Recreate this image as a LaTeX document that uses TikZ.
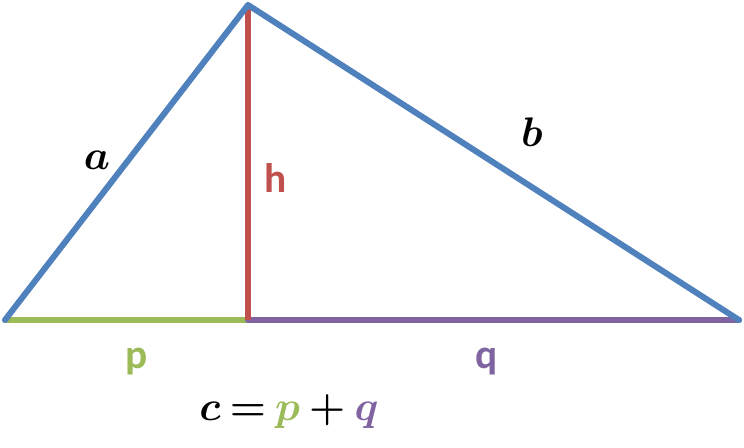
\RequirePackage{fix-cm}
\documentclass[tikz,border=0pt]{standalone}
\usepackage{amsmath,amssymb,bm}
\usepackage{fontspec}
\newfontfamily\labelfont{Carlito}
\usepackage{tikz}

\definecolor{sideblue}{HTML}{4F81BD}
\definecolor{heightred}{HTML}{C0504D}
\definecolor{pgreen}{HTML}{9BBB59}
\definecolor{qpurple}{HTML}{8064A2}

\tikzset{
  side/.style={line width=4.5pt, line cap=round, line join=round},
  seglabel/.style={font=\labelfont\bfseries\fontsize{31}{31}\selectfont, inner sep=0pt},
  mathlabel/.style={font=\fontsize{31}{31}\selectfont, inner sep=0pt}
}

\begin{document}
\begin{tikzpicture}[x=0.75pt, y=-0.75pt]
\useasboundingbox (0,0) rectangle (744,448);

%% vertices
\coordinate (A) at (5,320);
\coordinate (C) at (248,5);
\coordinate (B) at (739,320);
\coordinate (H) at (248,320);

%% base p and q
\draw[side, pgreen] (A) -- (H);
\draw[side, qpurple] (H) -- (B);

% height
\draw[side, heightred, line cap=butt] (C) -- (H);

%% sides a and b
\draw[side, sideblue] (A) -- (C) -- (B);

%% labels
\node[mathlabel] (label_a) at (97,160) {$\boldsymbol{a}$};
\node[mathlabel] (label_b) at (532,132) {$\boldsymbol{b}$};
\node[seglabel, text=heightred] (label_h) at (276,178) {h};
\node[seglabel, text=pgreen] (label_p) at (137,362) {p};
\node[seglabel, text=qpurple] (label_q) at (487,362) {q};

\node[mathlabel] (sum) at (289,412) {$\boldsymbol{c} \mathbin{\boldsymbol{=}} \textcolor{pgreen}{\boldsymbol{p}} \mathbin{\boldsymbol{+}} \textcolor{qpurple}{\boldsymbol{q}}$};

\end{tikzpicture}
\end{document}
